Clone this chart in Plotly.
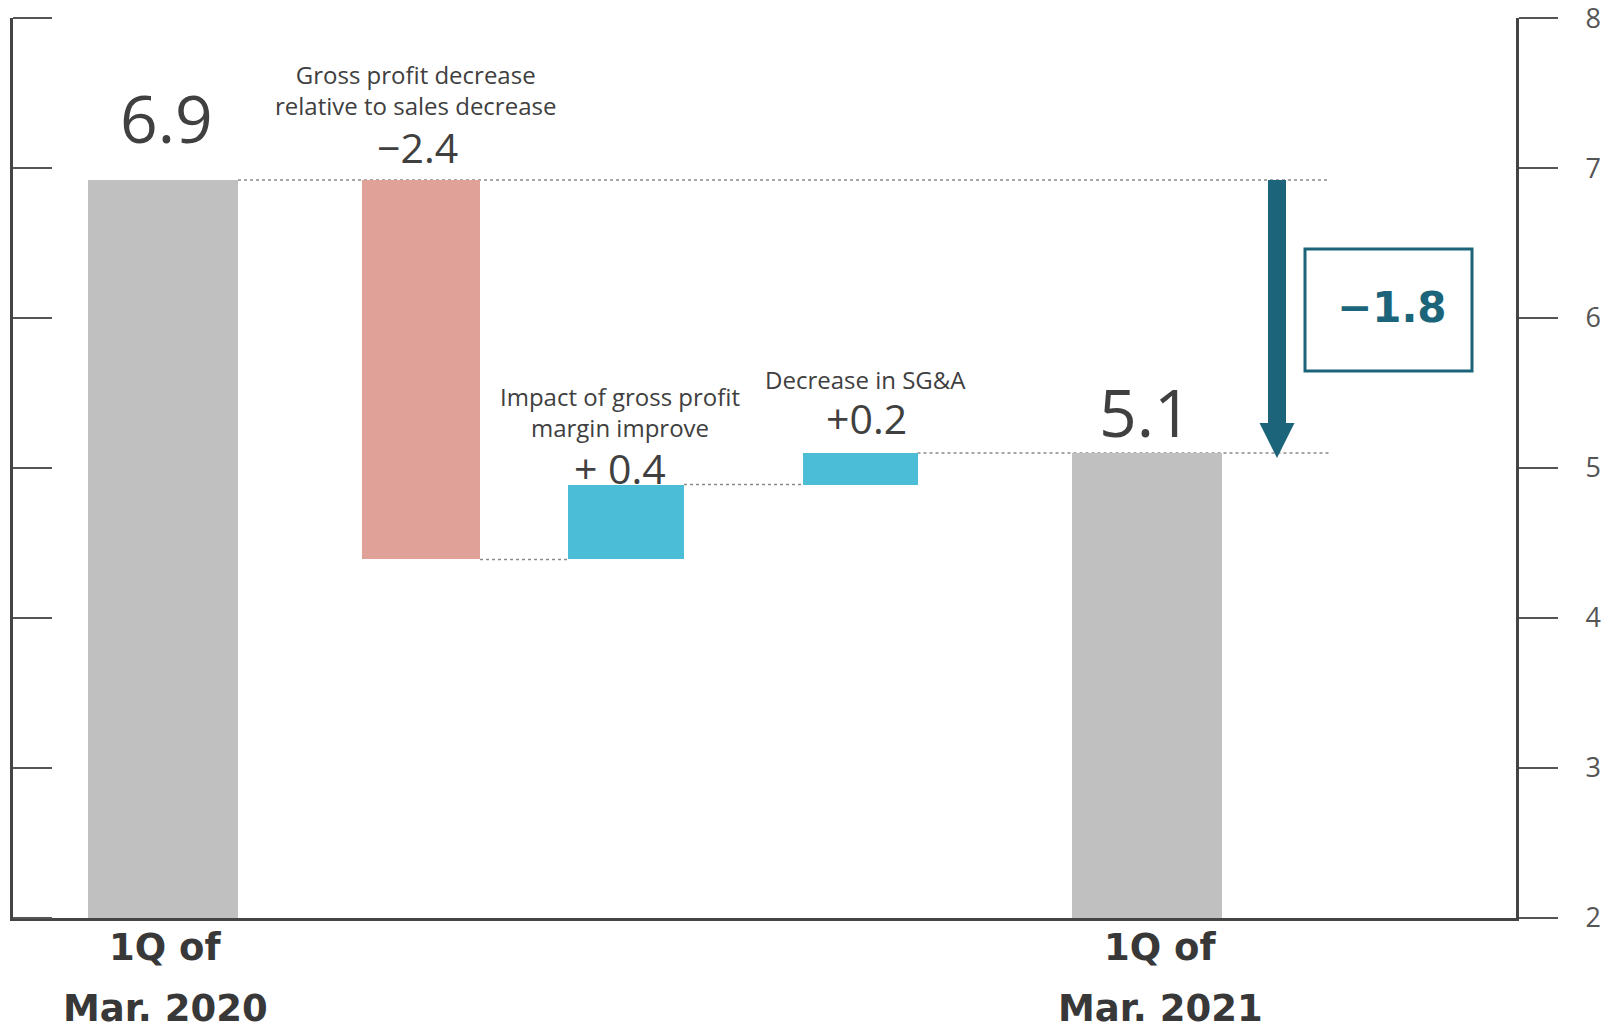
import plotly.graph_objects as go

# ---------------- data ----------------
categories = ["1Q of Mar. 2020",
              "Gross profit decrease relative to sales decrease",
              "Impact of gross profit margin improve",
              "Decrease in SG&A",
              "1Q of Mar. 2021"]
start_value = 6.92          # drawn height of first total bar
changes = [-2.53, 0.50, 0.21]  # drawn step heights
end_value = 5.10            # drawn height of last total bar
value_labels = ["6.9", "\u22122.4", "+ 0.4", "+0.2", "5.1"]
desc_labels = ["",
               "Gross profit decrease<br>relative to sales decrease",
               "Impact of gross profit<br>margin improve",
               "Decrease in SG&A",
               ""]
period_labels = {0: ["1Q of", "Mar. 2020"], 4: ["1Q of", "Mar. 2021"]}
total_change_label = "\u22121.8"
y_ticks = [2, 3, 4, 5, 6, 7, 8]

# ---------------- style / layout ----------------
bar_x = [150, 408, 613, 847, 1134]
bar_w = [150, 118, 116, 115, 150]
GRAY, RED, BLUE, TEAL = "#c0c0c0", "#e0a199", "#4cbdd6", "#1b6479"
TXT = "#404040"
bar_colors = [GRAY, RED, BLUE, BLUE, GRAY]
val_dx = [3, -4, -6, 6, -2]
val_shift = [63, 33, 17, 35, 42]
desc_dx = [0, -6, -6, 5, 0]
desc_shift = [0, 90, 73, 74, 0]
connector_end = 1317
PX_PER_UNIT = 150.0
EPS = 0.0005
Y_RANGE = [y_ticks[0] - EPS, y_ticks[-1] + EPS]

# ---------------- build bars ----------------
bases, heights = [0], [start_value]
level = start_value
levels = [start_value]
for c in changes:
    bases.append(level)
    heights.append(c)
    level += c
    levels.append(level)
bases.append(0)
heights.append(end_value)

tops = [max(b, b + h) for b, h in zip(bases, heights)]

fig = go.Figure()
fig.add_trace(go.Bar(x=bar_x, y=heights, base=bases, width=bar_w,
                     marker=dict(color=bar_colors, line=dict(width=0)),
                     hoverinfo="skip", showlegend=False))
# invisible traces to activate the tick axes
for ya in ("y2", "y3"):
    fig.add_trace(go.Scatter(x=[bar_x[0]], y=[y_ticks[0]], yaxis=ya, mode="markers",
                             marker=dict(opacity=0), hoverinfo="skip", showlegend=False))

shapes = []
right_edges = [x + w / 2 for x, w in zip(bar_x, bar_w)]
left_edges = [x - w / 2 for x, w in zip(bar_x, bar_w)]
conn_spec = [(0, connector_end, levels[0]),
             (1, left_edges[2], levels[1]),
             (2, left_edges[3], levels[2]),
             (3, connector_end, levels[3])]
for i, x1, yv in conn_spec:
    shapes.append(dict(type="line", xref="x", yref="y", x0=right_edges[i], x1=x1,
                       y0=yv, y1=yv, layer="below",
                       line=dict(color="#8a8a8a", width=1.5, dash="dot")))

# arrow from start total to end total
ax = 1264
shaft_hw, head_hw, head_len = 9, 17.5, 35 / PX_PER_UNIT
y_top = start_value
y_tip = end_value - 5 / PX_PER_UNIT
y_hb = y_tip + head_len
path = (f"M {ax-shaft_hw},{y_top} L {ax+shaft_hw},{y_top} L {ax+shaft_hw},{y_hb} "
        f"L {ax+head_hw},{y_hb} L {ax},{y_tip} L {ax-head_hw},{y_hb} L {ax-shaft_hw},{y_hb} Z")
shapes.append(dict(type="path", xref="x", yref="y", path=path,
                   fillcolor=TEAL, line=dict(width=0)))
shapes.append(dict(type="rect", xref="x", yref="y", x0=1292, x1=1459, y0=5.646, y1=6.461,
                   line=dict(color=TEAL, width=3), fillcolor="rgba(0,0,0,0)"))

annotations = []
for i in range(len(categories)):
    annotations.append(dict(x=bar_x[i] + val_dx[i], y=tops[i], xref="x", yref="y",
                            text=value_labels[i], showarrow=False, yanchor="middle",
                            yshift=val_shift[i],
                            font=dict(family="Open Sans", size=66 if i in (0, 4) else 41,
                                      color=TXT)))
    if desc_labels[i]:
        annotations.append(dict(x=bar_x[i] + desc_dx[i], y=tops[i], xref="x", yref="y",
                                text=desc_labels[i], showarrow=False, yanchor="middle",
                                yshift=desc_shift[i],
                                font=dict(family="Open Sans", size=24, color=TXT)))
for i, lines in period_labels.items():
    for k, line in enumerate(lines):
        annotations.append(dict(x=bar_x[i] + (2 if i == 0 else 13), y=[-0.0333, -0.1][k],
                                xref="x", yref="paper", text=line, showarrow=False,
                                yanchor="middle",
                                font=dict(family="DejaVu Sans", size=37, color="#383838",
                                          weight="bold")))
annotations.append(dict(x=1379, y=6.067, xref="x", yref="y", text=total_change_label,
                        showarrow=False, yanchor="middle",
                        font=dict(family="DejaVu Sans", size=42, color=TEAL, weight="bold")))

TICKLEN = 39
PLOT_W = 1503
fig.update_layout(
    width=1607, height=1031,
    margin=dict(l=13, r=91, t=18, b=113, autoexpand=False),
    paper_bgcolor="white", plot_bgcolor="white",
    bargap=0,
    shapes=shapes, annotations=annotations,
    xaxis=dict(range=[0, PLOT_W], showline=True, linewidth=3, linecolor="#444444",
               showticklabels=False, ticks="", showgrid=False, zeroline=False,
               fixedrange=True, automargin=False),
    yaxis=dict(range=Y_RANGE, tickvals=y_ticks, ticks="", showline=True, linewidth=3,
               linecolor="#444444", showticklabels=False, showgrid=False, zeroline=False,
               fixedrange=True, automargin=False),
    # left-side tick marks, drawn from a free axis placed one tick length inside
    yaxis3=dict(range=Y_RANGE, tickvals=y_ticks, overlaying="y", side="left",
                anchor="free", position=TICKLEN / PLOT_W, ticks="outside", ticklen=TICKLEN,
                tickwidth=2, tickcolor="#555555", showline=False, showticklabels=False,
                showgrid=False, zeroline=False, fixedrange=True, automargin=False),
    yaxis2=dict(range=Y_RANGE, tickvals=y_ticks, overlaying="y", side="right",
                anchor="x", ticks="outside", ticklen=TICKLEN, tickwidth=2, tickcolor="#555555",
                showline=True, linewidth=3, linecolor="#444444", showgrid=False,
                zeroline=False, ticklabelstandoff=22, fixedrange=True, automargin=False,
                ticklabeloverflow="allow",
                tickfont=dict(family="Open Sans", size=27, color="#555555")),
)

fig.write_html("out.html")
